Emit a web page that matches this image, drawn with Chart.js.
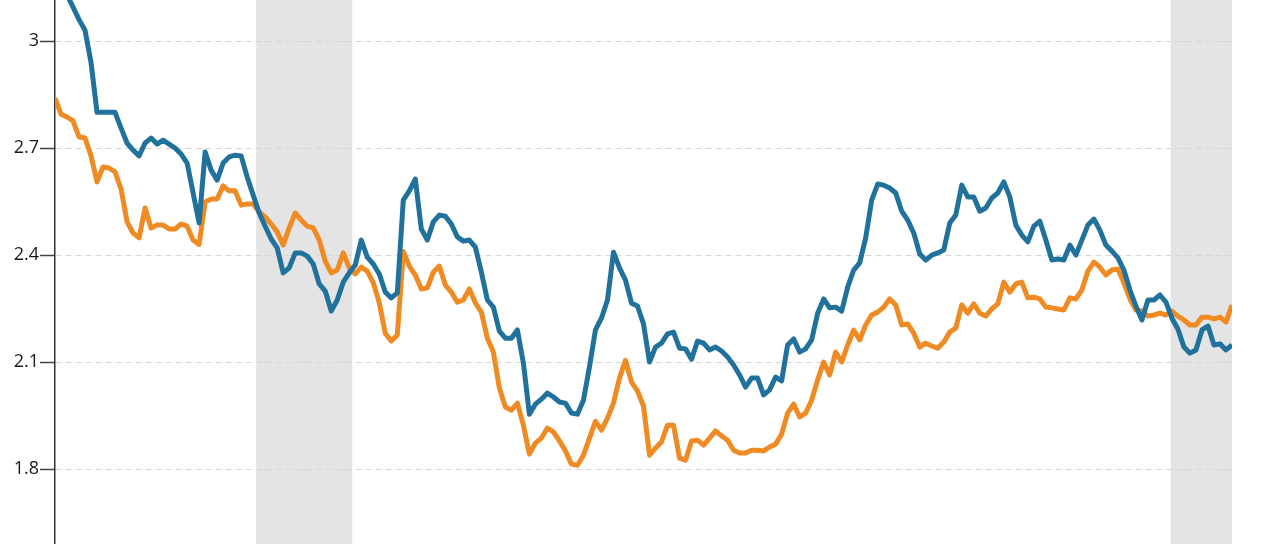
<!DOCTYPE html>
<html>
<head>
<meta charset="utf-8">
<script src="https://cdn.jsdelivr.net/npm/chart.js@4.4.1/dist/chart.umd.min.js"></script>
<style>
  html, body { margin: 0; padding: 0; background: #fff; }
  #wrap { width: 1280px; height: 544px; position: relative; }
</style>
</head>
<body>
<div id="wrap"><canvas id="chart"></canvas></div>
<script>
// --- data (one point every ~6px) ---
const blueValues = [
  3.21, 3.17, 3.13, 3.095, 3.06, 3.03, 2.94, 2.80, 2.80, 2.80,
  2.80, 2.756, 2.714, 2.694, 2.678, 2.714, 2.728, 2.711, 2.722, 2.711,
  2.70, 2.683, 2.658, 2.574, 2.49, 2.689, 2.638, 2.61, 2.658, 2.675,
  2.68, 2.678, 2.619, 2.568, 2.518, 2.481, 2.445, 2.42, 2.35, 2.364,
  2.406, 2.406, 2.397, 2.375, 2.319, 2.299, 2.243, 2.274, 2.324, 2.35,
  2.372, 2.442, 2.394, 2.375, 2.347, 2.296, 2.28, 2.294, 2.554, 2.58,
  2.613, 2.473, 2.442, 2.493, 2.512, 2.509, 2.487, 2.451, 2.439, 2.442,
  2.422, 2.352, 2.274, 2.254, 2.187, 2.167, 2.167, 2.19, 2.097, 1.954,
  1.982, 1.996, 2.013, 2.002, 1.988, 1.985, 1.957, 1.954, 1.993, 2.086,
  2.19, 2.223, 2.274, 2.408, 2.364, 2.33, 2.265, 2.257, 2.207, 2.10,
  2.142, 2.153, 2.179, 2.184, 2.139, 2.137, 2.108, 2.159, 2.153, 2.134,
  2.142, 2.131, 2.114, 2.092, 2.064, 2.03, 2.055, 2.055, 2.008, 2.022,
  2.058, 2.047, 2.148, 2.165, 2.128, 2.137, 2.162, 2.237, 2.277, 2.252,
  2.254, 2.243, 2.31, 2.358, 2.378, 2.448, 2.554, 2.599, 2.596, 2.588,
  2.574, 2.523, 2.498, 2.462, 2.403, 2.386, 2.40, 2.406, 2.414, 2.49,
  2.512, 2.596, 2.563, 2.563, 2.523, 2.532, 2.56, 2.574, 2.605, 2.563,
  2.484, 2.456, 2.437, 2.481, 2.495, 2.442, 2.386, 2.389, 2.386, 2.428,
  2.40, 2.442, 2.484, 2.501, 2.47, 2.428, 2.411, 2.392, 2.358, 2.302,
  2.257, 2.218, 2.274, 2.274, 2.288, 2.268, 2.223, 2.192, 2.142, 2.125,
  2.134, 2.19, 2.201, 2.148, 2.151, 2.134, 2.148
];
const orangeValues = [
  2.84, 2.795, 2.787, 2.776, 2.731, 2.728, 2.678, 2.605, 2.647, 2.644,
  2.633, 2.585, 2.493, 2.462, 2.448, 2.532, 2.476, 2.484, 2.484, 2.473,
  2.473, 2.487, 2.481, 2.442, 2.43, 2.549, 2.557, 2.557, 2.594, 2.58,
  2.58, 2.54, 2.543, 2.543, 2.521, 2.507, 2.487, 2.465, 2.428, 2.476,
  2.518, 2.498, 2.481, 2.476, 2.442, 2.383, 2.35, 2.358, 2.406, 2.364,
  2.347, 2.366, 2.355, 2.322, 2.266, 2.181, 2.159, 2.176, 2.41, 2.369,
  2.344, 2.305, 2.308, 2.352, 2.369, 2.316, 2.296, 2.268, 2.274, 2.305,
  2.266, 2.24, 2.167, 2.128, 2.027, 1.974, 1.965, 1.985, 1.923, 1.842,
  1.873, 1.887, 1.915, 1.904, 1.879, 1.851, 1.814, 1.811, 1.839, 1.887,
  1.934, 1.909, 1.943, 1.985, 2.055, 2.105, 2.044, 2.019, 1.977, 1.839,
  1.859, 1.876, 1.923, 1.923, 1.831, 1.825, 1.879, 1.881, 1.867, 1.887,
  1.907, 1.893, 1.881, 1.853, 1.845, 1.845, 1.853, 1.853, 1.851, 1.862,
  1.87, 1.898, 1.957, 1.982, 1.946, 1.957, 1.993, 2.05, 2.10, 2.064,
  2.128, 2.10, 2.148, 2.19, 2.162, 2.204, 2.232, 2.24, 2.254, 2.277,
  2.26, 2.204, 2.207, 2.181, 2.142, 2.153, 2.145, 2.139, 2.156, 2.184,
  2.195, 2.26, 2.237, 2.263, 2.237, 2.229, 2.249, 2.263, 2.324, 2.296,
  2.319, 2.324, 2.28, 2.282, 2.277, 2.254, 2.252, 2.249, 2.246, 2.28,
  2.277, 2.302, 2.355, 2.38, 2.366, 2.344, 2.358, 2.361, 2.322, 2.277,
  2.246, 2.243, 2.229, 2.232, 2.237, 2.232, 2.243, 2.229, 2.218, 2.204,
  2.204, 2.226, 2.226, 2.221, 2.226, 2.212, 2.26
];
const periods = blueValues.map((v, i) => i);
const yTicks = [1.8, 2.1, 2.4, 2.7, 3];
// shaded spans, as [first, last] period index
const shadedSpans = [[33.5, 49.5], [185.8, 196]];

// grey bands go under the grid, so draw them first
const shadePlugin = {
  id: 'shade',
  beforeDraw(chart) {
    const { ctx, chartArea, scales } = chart;
    ctx.save();
    ctx.fillStyle = '#e4e4e4';
    shadedSpans.forEach(span => {
      const x1 = scales.x.getPixelForValue(span[0]);
      const x2 = scales.x.getPixelForValue(span[1]);
      ctx.fillRect(x1, chartArea.top, x2 - x1, chartArea.bottom - chartArea.top);
    });
    ctx.restore();
  }
};

new Chart(document.getElementById('chart'), {
  type: 'line',
  data: {
    labels: periods,
    datasets: [
      {
        data: blueValues,
        borderColor: '#21719d',
        borderWidth: 5,
        pointRadius: 0,
        tension: 0,
        borderJoinStyle: 'round'
      },
      {
        data: orangeValues,
        borderColor: '#f08a22',
        borderWidth: 5,
        pointRadius: 0,
        tension: 0,
        borderJoinStyle: 'round'
      }
    ]
  },
  options: {
    responsive: true,
    maintainAspectRatio: false,
    animation: false,
    layout: { padding: { top: 0, right: 48, bottom: 0, left: 0 } },
    plugins: { legend: { display: false }, tooltip: { enabled: false } },
    scales: {
      x: {
        type: 'linear',
        min: 0,
        max: periods.length - 1,
        display: false
      },
      y: {
        min: 1.59,
        max: 3.115,
        afterBuildTicks: scale => { scale.ticks = yTicks.map(v => ({ value: v })); },
        afterFit: scale => {
          scale.width = 55;
          scale.paddingTop = 0;
          scale.paddingBottom = 0;
        },
        border: { display: true, color: '#333', width: 1.5, dash: [6, 4] },
        grid: {
          color: '#d6d6d6',
          lineWidth: 1,
          drawTicks: true,
          tickLength: 15,
          tickColor: '#444',
          tickWidth: 1.5,
          tickBorderDash: []
        },
        ticks: {
          padding: 1,
          color: '#1a1a1a',
          font: { family: "'Open Sans', 'Noto Sans', sans-serif", size: 18 },
          callback: v => String(Math.round(v * 10) / 10)
        }
      }
    }
  },
  plugins: [shadePlugin]
});
</script>
</body>
</html>
